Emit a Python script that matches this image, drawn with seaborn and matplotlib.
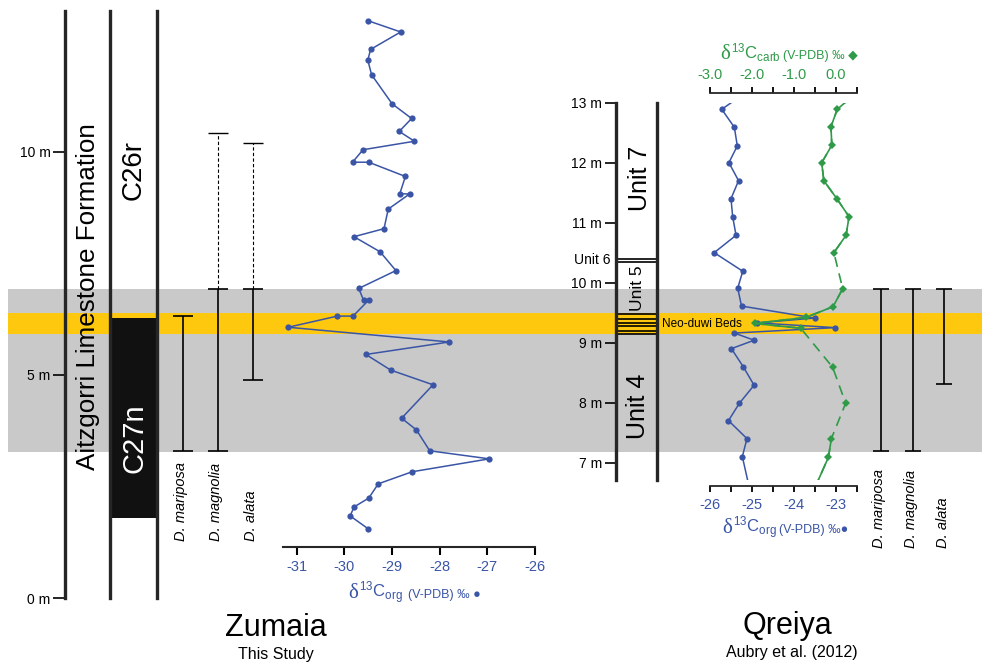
import matplotlib.pyplot as plt
import seaborn as sns
import numpy as np

# ---------------- Zumaia (this study) ----------------
zum_depth = [12.94, 12.69, 12.30, 12.06, 11.73, 11.08, 10.75, 10.46, 10.24, 10.05,
             9.77, 9.77, 9.45, 9.06, 9.06, 8.72, 8.28, 8.10, 7.76, 7.34, 6.94,
             6.68, 6.68, 6.32, 6.32, 6.07, 5.74, 5.46, 5.11, 4.78, 4.03, 3.77,
             3.30, 3.12, 2.83, 2.56, 2.24, 2.04, 1.84, 1.55]
zum_org = [-29.50, -28.82, -29.45, -29.51, -29.43, -29.00, -28.59, -28.85, -28.53, -29.61,
           -29.83, -29.49, -28.72, -28.84, -28.63, -29.08, -29.17, -29.80, -29.25, -28.92, -29.70,
           -29.60, -29.49, -29.82, -30.15, -31.18, -27.80, -29.55, -29.03, -28.14, -28.80, -28.49,
           -28.21, -26.96, -28.58, -29.29, -29.49, -29.80, -29.88, -29.50]
zum_ticks = [0, 5, 10]

# magnetochron C27n (black), C26r above
c27n = (1.79, 6.28)

taxa = ["D. mariposa", "D. magnolia", "D. alata"]
zum_base = [3.29, 3.29, 4.88]
zum_top = [6.32, 6.92, 6.92]
zum_ext = [np.nan, 10.42, 10.21]

# correlation bands, in Zumaia metres
gray_band = (3.28, 6.92)
yellow_band = (5.92, 6.39)

# ---------------- Qreiya (Aubry et al. 2012) ----------------
qr_org_depth = [13.10, 12.89, 12.59, 12.28, 12.00, 11.70, 11.40, 11.10, 10.79, 10.50,
                10.19, 9.91, 9.61, 9.41, 9.33, 9.25, 9.16, 9.04, 8.90, 8.60, 8.29,
                7.99, 7.70, 7.40, 7.10, 6.60]
qr_org = [-25.29, -25.72, -25.42, -25.35, -25.55, -25.32, -25.50, -25.46, -25.38, -25.90,
          -25.22, -25.34, -25.25, -23.51, -24.88, -23.02, -25.42, -24.95, -25.49, -25.21, -24.95,
          -25.30, -25.56, -25.12, -25.23, -25.07]
qr_carb_depth = [13.10, 12.89, 12.60, 12.29, 12.00, 11.70, 11.40, 11.10, 10.79, 10.50,
                 9.90, 9.60, 9.42, 9.32, 9.24, 8.59, 7.99, 7.40, 7.09, 6.60]
qr_carb = [0.38, 0.03, -0.12, -0.10, -0.34, -0.29, 0.02, 0.31, 0.24, -0.05,
           0.16, -0.07, -0.72, -1.94, -0.84, -0.08, 0.23, -0.11, -0.18, -0.49]
qr_carb_runs = [(0, 10), (10, 15), (17, 20)]  # solid parts, the rest dashed
qr_ticks = [7, 8, 9, 10, 11, 12, 13]

qr_base = [7.19, 7.19, 8.31]
qr_top = [9.90, 9.90, 9.90]

qr_unit_lines = [10.40, 10.34]
neoduwi_lines = [9.47, 9.40, 9.33, 9.27, 9.20, 9.14]

BLUE = "#3a55a6"
GREEN = "#2f9a48"
GRAY = "#c8c9c8"
YELLOW = "#fdc80e"

sns.set_theme(style="ticks")
plt.rcParams["font.family"] = ["Liberation Sans", "DejaVu Sans"]
plt.rcParams["mathtext.fontset"] = "custom"
plt.rcParams["mathtext.rm"] = "Liberation Sans"
plt.rcParams["mathtext.it"] = "Liberation Sans:italic"
plt.rcParams["axes.unicode_minus"] = False
plt.rcParams["text.color"] = "black"
plt.rcParams["xtick.color"] = "black"
plt.rcParams["ytick.color"] = "black"

W, H = 982, 663
fig = plt.figure(figsize=(W / 100, H / 100), dpi=100)


def box(x0, y0, x1, y1):
    return [x0 / W, 1 - y1 / H, (x1 - x0) / W, (y1 - y0) / H]


def ftext(x, y, s, **kw):
    fig.text(x / W, 1 - y / H, s, **kw)


def bare(ax, keep=()):
    ax.patch.set_visible(False)
    for side, sp in ax.spines.items():
        sp.set_visible(side in keep)
    ax.tick_params(left=False, bottom=False, top=False, right=False,
                   labelleft=False, labelbottom=False)


def ranges(ax, base, top, ext, cap):
    pos = np.arange(len(base))
    ax.vlines(pos, base, top, color="black", lw=1.2)
    ax.plot(pos, base, "_", ms=cap, mew=1.2, color="black")
    ax.plot(pos, top, "_", ms=cap, mew=1.2, color="black")
    ext = np.asarray(ext)
    ok = ~np.isnan(ext)
    if ok.any():
        ax.vlines(pos[ok], np.asarray(top)[ok], ext[ok], color="black", lw=0.8,
                  linestyles=(0, (3, 2)))
        ax.plot(pos[ok], ext[ok], "_", ms=cap, mew=1.0, color="black")
    ax.set_xlim(-0.5, len(base) - 0.5)


def isotope_label(x, y, sub, tail, color, tail_x):
    ftext(x, y, "δ", family="Liberation Serif", size=15, color=color, ha="right",
          va="baseline")
    ftext(x + 1, y, "$^{13}$C$_{\\rm " + sub + "}$", size=12, color=color, ha="left",
          va="baseline")
    ftext(tail_x, y, tail, size=9, color=color, ha="left", va="baseline")


zum_ylim = (0, 13.16)
qr_ylim = (6.71, 13.0)

# background correlation bands
bg = fig.add_axes(box(8, 11, 982, 598))
bg.axhspan(*gray_band, color=GRAY, lw=0)
bg.axhspan(*yellow_band, color=YELLOW, lw=0)
bg.set_ylim(*zum_ylim)
bg.axis("off")

# ---- Zumaia lithology column ----
ax = fig.add_axes(box(65, 11, 110, 598))
bare(ax, keep=("left",))
ax.spines["left"].set_linewidth(2.4)
ax.set_ylim(*zum_ylim)
ax.set_yticks(zum_ticks, [f"{t} m" for t in zum_ticks])
ax.tick_params(left=True, labelleft=True, length=8.5, width=1.2, pad=2, labelsize=10)
ftext(88, 297, "Aitzgorri Limestone Formation", rotation=90, ha="center", va="center",
      size=18.7)

# magnetostratigraphy
ax = fig.add_axes(box(110, 11, 157, 598))
bare(ax, keep=("left", "right"))
for s in ("left", "right"):
    ax.spines[s].set_linewidth(2.4)
ax.axhspan(*c27n, color="#111111", lw=0)
ax.set_ylim(*zum_ylim)
ftext(134, 170, "C26r", rotation=90, ha="center", va="center", size=20)
ftext(134, 438, "C27n", rotation=90, ha="center", va="center", size=21, color="white")

# biostratigraphy
ax = fig.add_axes(box(165, 11, 270, 598))
bare(ax)
ranges(ax, zum_base, zum_top, zum_ext, cap=14)
ax.set_ylim(*zum_ylim)
for i, name in enumerate(taxa):
    ax.text(i - 0.05, 1.28, name, rotation=90, ha="center", va="bottom", size=10.5,
            style="italic")

# d13C org
ax = fig.add_axes(box(283, 11, 535, 547))
bare(ax, keep=("bottom",))
sns.lineplot(x=zum_org, y=zum_depth, sort=False, estimator=None, color=BLUE, lw=1.1,
             marker="o", ms=4.5, mec=BLUE, mew=0, ax=ax)
ax.set_xlim(-31.29, -26)
ax.set_ylim((598 - 547) / 44.6, zum_ylim[1])
ax.set_xticks(range(-31, -25))
ax.spines["bottom"].set_linewidth(1.5)
ax.tick_params(bottom=True, labelbottom=True, length=5.5, width=1.5, pad=4,
               labelsize=10.5, labelcolor=BLUE)
ax.set_xlabel("")
ax.set_ylabel("")
isotope_label(358, 598, "org", "(V-PDB) ‰ ●", BLUE, 408)

ftext(276, 628, "Zumaia", size=22, ha="center", va="center")
ftext(276, 655, "This Study", size=11.5, ha="center", va="center")

# ---- Qreiya lithology ----
ax = fig.add_axes(box(616, 102.7, 657, 480))
bare(ax, keep=("left", "right"))
for s in ("left", "right"):
    ax.spines[s].set_linewidth(2.4)
ax.set_ylim(*qr_ylim)
for d in qr_unit_lines + neoduwi_lines:
    ax.axhline(d, color="black", lw=1.2)
ax.set_yticks(qr_ticks, [f"{t} m" for t in qr_ticks])
ax.tick_params(left=True, labelleft=True, length=8, width=1.2, pad=2, labelsize=10)
ftext(640, 178, "Unit 7", rotation=90, ha="center", va="center", size=18)
ftext(637, 288, "Unit 5", rotation=90, ha="center", va="center", size=12.5)
ftext(638, 406, "Unit 4", rotation=90, ha="center", va="center", size=18)
ftext(610, 260, "Unit 6", ha="right", va="center", size=10)
ftext(662, 324, "Neo-duwi Beds", ha="left", va="center", size=8.5)

# d13C org and carb
ax = fig.add_axes(box(710, 102.7, 857, 480))
bare(ax, keep=("bottom",))
sns.lineplot(x=qr_org, y=qr_org_depth, sort=False, estimator=None, color=BLUE, lw=1.1,
             marker="o", ms=4.5, mec=BLUE, mew=0, ax=ax)
ax.set_xlim(-26, -22.5)
ax.set_ylim(*qr_ylim)
ax.set_xticks(range(-26, -22))
ax.set_xticks(np.arange(-25.5, -22.4, 1), minor=True)
ax.spines["bottom"].set_position(("outward", 4.3))
ax.spines["bottom"].set_linewidth(1.3)
ax.tick_params(which="both", bottom=True, labelbottom=True, length=4.5, width=1.3,
               pad=4, labelsize=10.5, labelcolor=BLUE)
ax.set_xlabel("")
ax.set_ylabel("")

axc = ax.twiny()
bare(axc, keep=("top",))
for a, b in qr_carb_runs:
    sns.lineplot(x=qr_carb[a:b], y=qr_carb_depth[a:b], sort=False, estimator=None,
                 color=GREEN, lw=1.2, ax=axc)
sns.lineplot(x=qr_carb, y=qr_carb_depth, sort=False, estimator=None, color=GREEN, lw=1.2,
             ls=(0, (6, 4)), marker="D", ms=3.8, mec=GREEN, mew=0, ax=axc)
axc.set_xlim(-3.0, 0.5)
axc.set_ylim(*qr_ylim)
axc.set_xticks([-3, -2, -1, 0], ["-3.0", "-2.0", "-1.0", "0.0"])
axc.set_xticks(np.arange(-2.5, 0.6, 1), minor=True)
axc.spines["top"].set_position(("outward", 7.2))
axc.spines["top"].set_linewidth(1.3)
axc.tick_params(which="both", top=True, labeltop=True, bottom=False, labelbottom=False,
                length=4.5, width=1.3, pad=3, labelsize=10.5, labelcolor=GREEN)
axc.set_xlabel("")
axc.set_ylabel("")

isotope_label(732, 533, "org", "(V-PDB) ‰●", BLUE, 779)
isotope_label(730, 59, "carb", "(V-PDB) ‰ ◆", GREEN, 783)

# biostratigraphy
ax = fig.add_axes(box(865, 102.7, 960, 480))
bare(ax)
ranges(ax, qr_base, qr_top, [np.nan] * 3, cap=12)
ax.set_ylim(*qr_ylim)
for i, name in enumerate(taxa):
    ax.text(i - 0.05, 13 - (548 - 102.7) / 60, name, rotation=90, ha="center",
            va="bottom", size=10.5, style="italic")

ftext(787, 626, "Qreiya", size=22, ha="center", va="center")
ftext(792, 653, "Aubry et al. (2012)", size=11.5, ha="center", va="center")

fig.savefig("out.png", dpi=100)
